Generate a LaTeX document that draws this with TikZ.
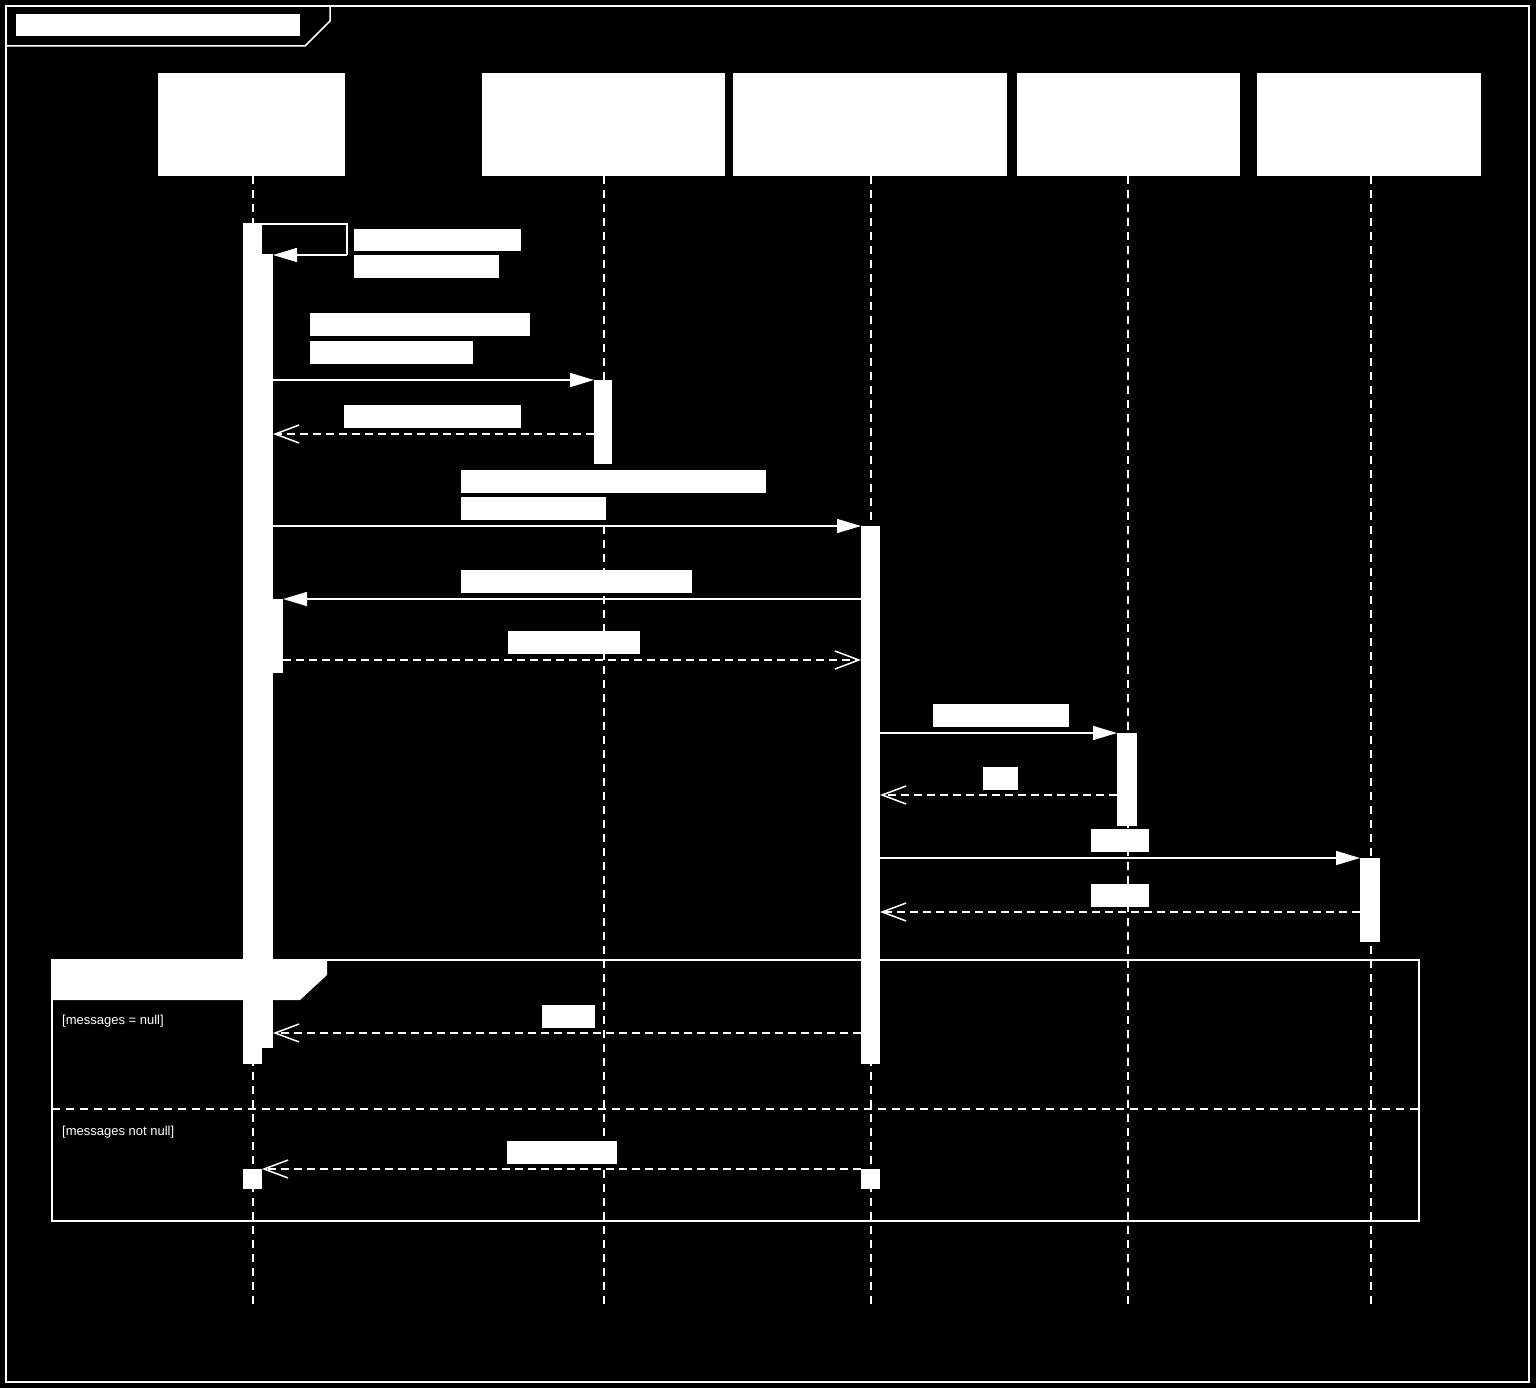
\documentclass[tikz,border=0pt]{standalone}
\usepackage{fontspec}
\setmainfont{Liberation Sans}
\usetikzlibrary{arrows.meta}
\begin{document}
\begin{tikzpicture}[x=1pt,y=-1pt,
  wb/.style={fill=white,draw=none},
  msg/.style={white,line width=1.5pt,-{Triangle[length=24pt,width=14pt]}},
  ret/.style={white,line width=1.5pt,dash pattern=on 8pt off 5pt,-{Straight Barb[length=24pt,width=18pt,line width=1.5pt]}},
  life/.style={white,line width=1.5pt,dash pattern=on 8pt off 6pt}]
\useasboundingbox (0,0) rectangle (1536,1388);
\fill[black] (0,0) rectangle (1536,1388);
\draw[white,line width=1.5pt] (6,6) rectangle (1529,1382);
\draw[white,line width=1.5pt] (6,46) -- (305,46) -- (330,21) -- (330,6);
\fill[white] (16,14) rectangle (300,36);
% heads
\node[wb,anchor=north west,minimum width=187pt,minimum height=103pt,inner sep=0] (hA) at (158,73) {};
\node[wb,anchor=north west,minimum width=243pt,minimum height=103pt,inner sep=0] (hB) at (482,73) {};
\node[wb,anchor=north west,minimum width=274pt,minimum height=103pt,inner sep=0] (hC) at (733,73) {};
\node[wb,anchor=north west,minimum width=223pt,minimum height=103pt,inner sep=0] (hD) at (1017,73) {};
\node[wb,anchor=north west,minimum width=224pt,minimum height=103pt,inner sep=0] (hE) at (1257,73) {};
\coordinate (eA) at (253,1308); \coordinate (eB) at (604,1308); \coordinate (eC) at (871,1308);
\coordinate (eD) at (1128,1308); \coordinate (eE) at (1371,1308);
\draw[life] (253,176) -- (eA); \draw[life] (604,176) -- (eB); \draw[life] (871,176) -- (eC);
\draw[life] (1128,176) -- (eD); \draw[life] (1371,176) -- (eE);
% activations
\fill[white] (243,223) rectangle (262,1064);
\fill[white] (262,254) rectangle (273,1048);
\fill[white] (273,599) rectangle (283,673);
\fill[white] (594,380) rectangle (612,464);
\fill[white] (861,526) rectangle (880,1064);
\fill[white] (1117,733) rectangle (1137,826);
\fill[white] (1360,858) rectangle (1380,942);
\fill[white] (243,1169) rectangle (262,1189);
\fill[white] (861,1169) rectangle (880,1189);
% labels
\foreach \a/\b/\c/\d in {354/229/521/251, 354/255/499/278, 310/313/530/336, 310/341/473/364,
  344/405/521/428, 461/470/766/493, 461/497/606/520, 461/570/692/593, 508/631/640/654,
  933/704/1069/727, 983/767/1018/790, 1091/829/1149/852, 1091/884/1149/907,
  542/1005/595/1028, 507/1141/617/1164}
  \fill[white] (\a,\b) rectangle (\c,\d);
% messages
\draw[white,line width=1.5pt] (262,224) -- (347,224) -- (347,255);
\draw[msg] (347,255) -- (273,255);
\draw[msg] (273,380) -- (594,380);
\draw[ret] (594,434) -- (273,434);
\draw[msg] (273,526) -- (861,526);
\draw[msg] (861,599) -- (283,599);
\draw[ret] (283,660) -- (861,660);
\draw[msg] (880,733) -- (1117,733);
\draw[ret] (1117,795) -- (880,795);
\draw[msg] (880,858) -- (1360,858);
\draw[ret] (1360,912) -- (880,912);
% alt
\draw[white,line width=2.5pt] (52,960) rectangle (1419,1221);
\fill[white] (52,960) -- (327,960) -- (327,975) -- (300,1000) -- (52,1000) -- cycle;
\draw[life] (52,1109) -- (1419,1109);
\node[white,anchor=west,font=\fontsize{13pt}{15pt}\selectfont,inner sep=0] at (62,1021) {[messages = null]};
\node[white,anchor=west,font=\fontsize{13pt}{15pt}\selectfont,inner sep=0] at (62,1132) {[messages not null]};
\draw[ret] (861,1033) -- (273,1033);
\draw[ret] (861,1169) -- (262,1169);
\end{tikzpicture}
\end{document}
